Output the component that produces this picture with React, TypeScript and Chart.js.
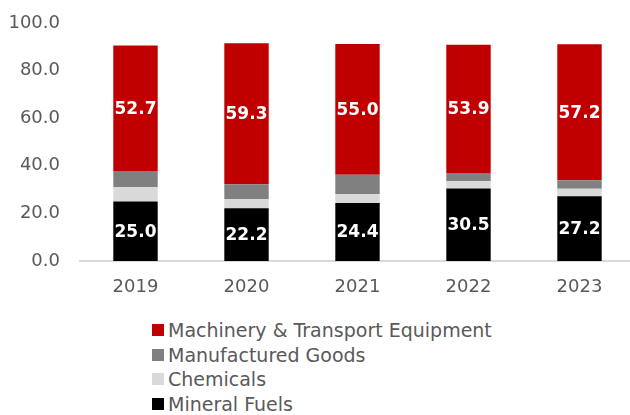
import React, { useEffect, useRef } from "react";
import { Chart, registerables } from "chart.js";

Chart.register(...registerables);

const years = ["2019", "2020", "2021", "2022", "2023"];
const mineralFuels = [25.0, 22.2, 24.4, 30.5, 27.2];
const chemicals = [6.0, 3.8, 3.8, 3.0, 3.2];
const manufacturedGoods = [6.8, 6.2, 8.0, 3.5, 3.5];
const machinery = [52.7, 59.3, 55.0, 53.9, 57.2];
const yTicks = [0, 20, 40, 60, 80, 100];

const FONT = "'DejaVu Sans', sans-serif";
const TEXT = "#595959";

const seriesDefs = [
  { label: "Mineral Fuels", data: mineralFuels, color: "#000000", showLabels: true },
  { label: "Chemicals", data: chemicals, color: "#D9D9D9", showLabels: false },
  { label: "Manufactured Goods", data: manufacturedGoods, color: "#808080", showLabels: false },
  { label: "Machinery & Transport Equipment", data: machinery, color: "#C00000", showLabels: true },
];

const valueLabelPlugin = {
  id: "valueLabels",
  afterDatasetsDraw(chart: any) {
    const ctx = chart.ctx;
    ctx.save();
    ctx.font = `bold 17px ${FONT}`;
    ctx.fillStyle = "#FFFFFF";
    ctx.textAlign = "center";
    ctx.textBaseline = "middle";
    chart.data.datasets.forEach((ds: any, i: number) => {
      if (!ds.showLabels) return;
      const meta = chart.getDatasetMeta(i);
      meta.data.forEach((el: any, j: number) => {
        const p = el.getCenterPoint();
        ctx.fillText(Number(ds.data[j]).toFixed(1), p.x, p.y + 1);
      });
    });
    ctx.restore();
  },
};

export default function App() {
  const ref = useRef<HTMLCanvasElement | null>(null);
  useEffect(() => {
    if (!ref.current) return;
    const chart = new Chart(ref.current, {
      type: "bar",
      data: {
        labels: years,
        datasets: seriesDefs.map((s) => ({
          label: s.label,
          data: s.data,
          backgroundColor: s.color,
          borderWidth: 0,
          categoryPercentage: 1,
          barPercentage: 0.4,
          showLabels: s.showLabels,
        })) as any,
      },
      options: {
        animation: false,
        responsive: false,
        layout: { padding: { top: 23, right: 0, left: 0, bottom: 0 } },
        plugins: { legend: { display: false }, tooltip: { enabled: false } },
        scales: {
          x: {
            stacked: true,
            grid: { display: false, drawTicks: false },
            border: { display: true, color: "#D9D9D9", width: 2 },
            ticks: { color: TEXT, font: { family: FONT, size: 18 }, padding: 16 },
            afterFit: (scale: any) => {
              scale.height = 40;
              scale.paddingLeft = 0;
              scale.paddingRight = 0;
            },
          },
          y: {
            stacked: true,
            min: 0,
            max: 100,
            grid: { display: false, drawTicks: false },
            border: { display: false },
            ticks: {
              stepSize: 20,
              color: TEXT,
              font: { family: FONT, size: 18 },
              padding: 20,
              callback: (v: any) => (yTicks.includes(Number(v)) ? Number(v).toFixed(1) : ""),
            },
            afterFit: (scale: any) => {
              scale.width = 80;
              scale.paddingTop = 0;
              scale.paddingBottom = 0;
            },
          },
        },
      },
      plugins: [valueLabelPlugin],
    });
    return () => chart.destroy();
  }, []);

  const legendOrder = [...seriesDefs].reverse();

  return (
    <div
      style={{
        position: "fixed",
        left: 0,
        top: 0,
        width: 630,
        height: 415,
        overflow: "hidden",
        background: "#FFFFFF",
      }}
    >
      <canvas ref={ref} width={635} height={301} style={{ display: "block" }} />
      <div style={{ position: "absolute", left: 152, top: 318 }}>
        {legendOrder.map((s) => (
          <div
            key={s.label}
            style={{
              display: "flex",
              alignItems: "center",
              height: 24.5,
              fontFamily: FONT,
              fontSize: 19,
              color: TEXT,
              whiteSpace: "nowrap",
            }}
          >
            <span
              style={{
                display: "inline-block",
                width: 12,
                height: 12,
                background: s.color,
                marginRight: 4,
              }}
            />
            <span>{s.label}</span>
          </div>
        ))}
      </div>
    </div>
  );
}
